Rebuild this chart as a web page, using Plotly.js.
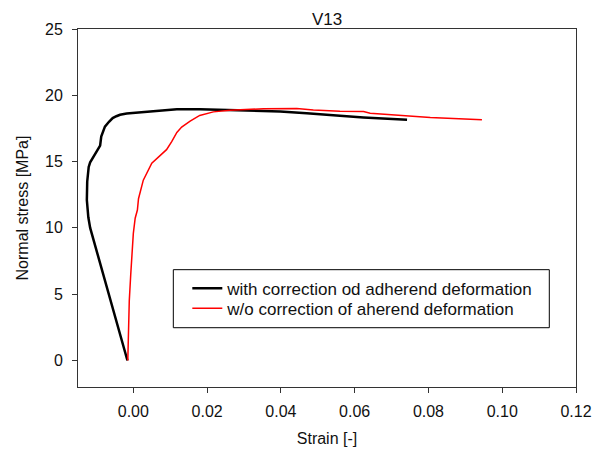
<!DOCTYPE html>
<html>
<head>
<meta charset="utf-8">
<script src="https://cdn.plot.ly/plotly-3.0.1.min.js"></script>
<style>html,body{margin:0;padding:0;background:#fff;}#chart{width:600px;height:453px;}</style>
</head>
<body>
<div id="chart"></div>
<script>
// Series 1: with correction od adherend deformation (black)
const withCorrStrain = [-0.0016,-0.0040,-0.0074,-0.0100,-0.0117,-0.0122,-0.0126,-0.0125,-0.0121,-0.0117,-0.0113,-0.0105,-0.0099,-0.0090,-0.0087,-0.0082,-0.0077,-0.0066,-0.0056,-0.0046,-0.0036,-0.0018,0.0000,0.0027,0.0072,0.0118,0.0180,0.0263,0.0330,0.0398,0.0470,0.0533,0.0560,0.0624,0.0742];
const withCorrStress = [0.0,2.4,5.8,8.4,10.0,10.8,12.1,13.5,14.6,14.95,15.13,15.5,15.85,16.2,16.89,17.3,17.64,18.0,18.28,18.42,18.53,18.62,18.66,18.72,18.85,18.95,18.95,18.9,18.85,18.78,18.65,18.48,18.45,18.32,18.15];
// Series 2: w/o correction of aherend deformation (red)
const woCorrStrain = [-0.0015,-0.0013,-0.0011,-0.0007,-0.0004,0.0000,0.0005,0.0011,0.0014,0.0027,0.0050,0.0071,0.0090,0.0104,0.0118,0.0131,0.0154,0.0180,0.0217,0.0262,0.0353,0.0443,0.0488,0.0560,0.0624,0.0642,0.0805,0.0945];
const woCorrStress = [0.0,2.5,4.5,6.5,8.08,9.59,10.73,11.35,12.2,13.6,14.88,15.45,15.9,16.5,17.2,17.6,18.05,18.48,18.75,18.88,18.98,19.0,18.9,18.8,18.78,18.65,18.32,18.15];

const seriesNames = ['with correction od adherend deformation','w/o correction of aherend deformation'];
const xTicks = [0.00,0.02,0.04,0.06,0.08,0.10,0.12];
const yTicks = [0,5,10,15,20,25];
const chartTitle = 'V13';
const xTitle = 'Strain [-]';
const yTitle = 'Normal stress [MPa]';

const font = 'Liberation Sans, Arial, sans-serif';
const traces = [
  {x: withCorrStrain, y: withCorrStress, mode: 'lines', name: seriesNames[0], legend: 'legend',
   line: {color: '#000000', width: 2.5}},
  {x: woCorrStrain, y: woCorrStress, mode: 'lines', name: seriesNames[1], legend: 'legend2',
   line: {color: '#ff0000', width: 1.5}}
];
const legendCommon = {xanchor: 'left', yanchor: 'middle', borderwidth: 0, bgcolor: 'rgba(0,0,0,0)',
                      font: {family: font, size: 17, color: '#111'}};
const layout = {
  width: 600, height: 453,
  margin: {l: 78, r: 24, t: 29, b: 66},
  paper_bgcolor: '#ffffff', plot_bgcolor: '#ffffff',
  font: {family: font, size: 16, color: '#111'},
  title: {text: chartTitle, x: 0.545, xanchor: 'center', y: 1 - 19/453, yanchor: 'middle', font: {family: font, size: 17, color: '#111'}},
  xaxis: {range: [-0.015, 0.12], tickvals: xTicks, tickformat: '.2f', ticks: 'outside', ticklen: 5, tickcolor: '#333',
          showline: true, linecolor: '#333', linewidth: 1, mirror: true, showgrid: false, zeroline: false,
          ticklabelstandoff: 5, tickfont: {family: font, size: 16, color: '#111'},
          title: {text: xTitle, standoff: 13, font: {family: font, size: 16, color: '#111'}}},
  yaxis: {range: [-2, 25], tickvals: yTicks, ticks: 'outside', ticklen: 5, tickcolor: '#333',
          showline: true, linecolor: '#333', linewidth: 1, mirror: true, showgrid: false, zeroline: false,
          ticklabelstandoff: 6, tickfont: {family: font, size: 16, color: '#111'},
          title: {text: yTitle, standoff: 12, font: {family: font, size: 16, color: '#111'}}},
  showlegend: true,
  legend: Object.assign({x: 0.2195, y: 0.2746}, legendCommon),
  legend2: Object.assign({x: 0.2195, y: 0.2187}, legendCommon),
  shapes: [{type: 'rect', xref: 'paper', yref: 'paper', x0: 0.1914, x1: 0.9464, y0: 0.1656, y1: 0.3277,
            line: {color: '#000', width: 1}, fillcolor: '#fff', layer: 'above'}]
};
Plotly.newPlot('chart', traces, layout, {staticPlot: true, displayModeBar: false});
</script>
</body>
</html>
